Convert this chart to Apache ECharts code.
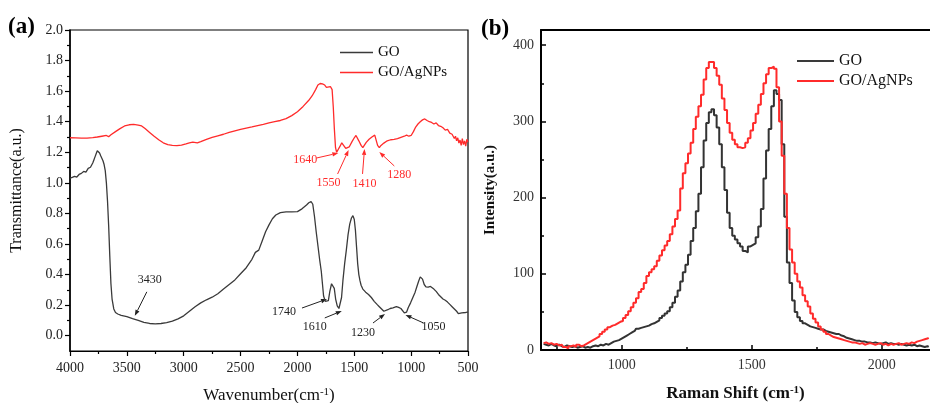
<!DOCTYPE html>
<html>
<head>
<meta charset="utf-8">
<script src="https://cdn.jsdelivr.net/npm/echarts@6/dist/echarts.min.js"></script>
<style>
  html, body { margin: 0; padding: 0; background: #fff; }
  #chart { width: 930px; height: 403px; }
</style>
</head>
<body>
<div id="chart"></div>
<script>
const SERIF = '"Liberation Serif", "Times New Roman", serif';

// ---- (a) FTIR spectra ----
const ftirGoWave = [4000,3980,3960,3940,3920,3900,3880,3860,3840,3820,3800,3790,3780,3770,3760,3750,3740,3730,3720,3710,3700,3690,3680,3670,3660,3650,3640,3630,3615,3600,3580,3550,3500,3450,3400,3350,3300,3250,3200,3150,3100,3050,3000,2950,2900,2850,2800,2750,2700,2650,2600,2550,2500,2450,2400,2370,2340,2310,2280,2250,2220,2190,2150,2100,2050,2000,1960,1920,1900,1880,1865,1850,1835,1820,1805,1790,1780,1770,1755,1740,1728,1715,1700,1688,1676,1664,1650,1635,1625,1612,1600,1585,1570,1555,1540,1525,1512,1500,1490,1480,1470,1460,1450,1440,1425,1400,1375,1350,1325,1300,1280,1260,1240,1225,1205,1185,1160,1130,1110,1090,1075,1060,1050,1040,1025,1005,985,965,950,935,920,910,900,885,870,850,830,815,800,780,760,740,720,700,680,660,640,620,600,585,570,555,540,520,500];
const ftirGoTrans = [1.030,1.036,1.042,1.038,1.055,1.062,1.075,1.070,1.095,1.102,1.130,1.150,1.170,1.190,1.210,1.202,1.195,1.178,1.165,1.145,1.120,1.080,1.000,0.880,0.720,0.520,0.340,0.240,0.175,0.152,0.142,0.133,0.125,0.112,0.100,0.088,0.080,0.078,0.080,0.085,0.095,0.110,0.130,0.160,0.190,0.215,0.235,0.252,0.275,0.305,0.335,0.365,0.405,0.445,0.500,0.545,0.560,0.620,0.680,0.725,0.765,0.790,0.805,0.810,0.810,0.812,0.830,0.855,0.870,0.878,0.860,0.780,0.680,0.590,0.500,0.420,0.340,0.260,0.225,0.215,0.230,0.290,0.340,0.350,0.310,0.240,0.195,0.178,0.185,0.250,0.360,0.470,0.560,0.660,0.730,0.770,0.785,0.760,0.690,0.580,0.470,0.400,0.360,0.330,0.305,0.285,0.270,0.250,0.225,0.205,0.190,0.175,0.160,0.162,0.170,0.178,0.182,0.190,0.185,0.178,0.170,0.150,0.142,0.155,0.185,0.215,0.250,0.285,0.320,0.355,0.385,0.390,0.370,0.335,0.320,0.318,0.322,0.318,0.305,0.290,0.270,0.255,0.240,0.232,0.220,0.205,0.190,0.175,0.160,0.145,0.140,0.150,0.155,0.152,0.155];

const ftirAgWave = [4000,3950,3900,3850,3800,3760,3720,3680,3660,3640,3600,3560,3520,3480,3440,3400,3370,3340,3300,3260,3220,3180,3140,3100,3060,3020,2980,2950,2920,2880,2850,2800,2750,2700,2650,2600,2550,2500,2450,2400,2350,2300,2250,2200,2150,2100,2050,2000,1950,1900,1870,1840,1820,1800,1780,1760,1745,1730,1710,1695,1685,1675,1665,1655,1640,1625,1610,1595,1575,1560,1545,1520,1500,1485,1475,1460,1440,1425,1410,1395,1370,1345,1320,1305,1295,1280,1265,1240,1210,1180,1150,1120,1090,1060,1040,1020,1000,980,960,940,920,900,880,860,840,820,800,780,760,740,720,700,680,660,640,620,610,600,590,580,570,560,550,540,530,520,510,500];
const ftirAgTrans = [1.295,1.294,1.293,1.292,1.296,1.300,1.305,1.310,1.302,1.315,1.335,1.355,1.372,1.380,1.382,1.378,1.372,1.355,1.330,1.305,1.282,1.262,1.250,1.245,1.243,1.247,1.255,1.262,1.267,1.262,1.270,1.285,1.298,1.308,1.318,1.330,1.340,1.350,1.358,1.366,1.375,1.383,1.392,1.400,1.408,1.420,1.440,1.465,1.500,1.540,1.570,1.610,1.640,1.650,1.648,1.640,1.625,1.635,1.630,1.610,1.500,1.350,1.230,1.200,1.205,1.240,1.262,1.255,1.225,1.215,1.235,1.270,1.295,1.310,1.300,1.275,1.245,1.230,1.235,1.265,1.285,1.300,1.312,1.300,1.245,1.230,1.245,1.260,1.275,1.282,1.285,1.290,1.298,1.305,1.312,1.305,1.310,1.335,1.365,1.385,1.400,1.412,1.418,1.408,1.400,1.395,1.385,1.392,1.375,1.370,1.360,1.345,1.350,1.325,1.318,1.290,1.305,1.275,1.295,1.260,1.280,1.245,1.290,1.250,1.275,1.240,1.285,1.265];

const wavenumberTicks = [4000, 3500, 3000, 2500, 2000, 1500, 1000, 500];
const wavenumberMinorTicks = [3750, 3250, 2750, 2250, 1750, 1250, 750];
const transTicks = [0.0, 0.2, 0.4, 0.6, 0.8, 1.0, 1.2, 1.4, 1.6, 1.8, 2.0];
const transMinorTicks = [0.1, 0.3, 0.5, 0.7, 0.9, 1.1, 1.3, 1.5, 1.7, 1.9];

// marked band positions (cm-1)
const goBands = [3430, 1740, 1610, 1230, 1050];
const agBands = [1640, 1550, 1410, 1280];

// ---- (b) Raman spectra ----
const ramanShift = [];
for (let s = 700; s <= 2180; s += 10) ramanShift.push(s);
const ramanGo = [8,7,6,8,6,5,7,5,4,6,5,4,5,3,4,5,3,4,3,5,6,5,7,6,8,7,9,11,12,13,15,17,19,21,23,25,28,29,30,31,32,34,35,37,39,42,45,48,51,56,62,70,78,90,102,112,125,143,160,182,205,240,275,298,312,316,308,292,270,240,210,180,160,150,145,140,136,130,128,136,138,140,148,162,185,225,262,290,320,341,336,328,270,175,115,88,65,50,43,38,35,33,31,30,29,28,27,27,25,24,23,22,21,21,19,18,16,15,14,13,12,12,11,11,10,10,9,10,9,8,9,10,8,9,8,8,7,8,7,6,7,6,7,5,6,5,4,5,4];
const ramanAg = [9,10,8,9,7,8,6,7,4,2,5,6,4,7,5,6,8,10,12,14,16,18,21,24,27,30,32,33,35,37,38,42,46,51,56,62,68,76,80,88,97,102,106,110,117,124,131,137,143,152,162,172,183,212,232,245,258,272,290,306,320,335,355,370,378,378,370,360,348,330,315,298,285,276,270,266,265,266,272,278,288,298,310,322,336,350,362,370,372,369,345,300,255,205,160,132,115,100,90,82,72,64,57,48,41,36,31,27,24,21,19,17,16,15,14,13,12,11,10,10,9,8,9,7,8,9,8,7,8,9,7,8,6,8,7,8,9,7,8,9,8,10,9,11,12,13,14,15,16];

const shiftTicks = [1000, 1500, 2000];
const shiftMinorTicks = [750, 1250, 1750];
const intensityTicks = [0, 100, 200, 300, 400];
const intensityMinorTicks = [50, 150, 250, 350];

const GO_DARK = '#3a3a3a';
const AG_RED = '#ff2b2b';

const pairs = (xs, ys) => xs.map((x, i) => [x, ys[i]]);
const plain = v => String(v);

function axisTitle(size, bold) {
  return {
    fontFamily: SERIF, fontSize: size, color: '#111', fontWeight: bold ? 'bold' : 'normal',
    rich: {
      sup: { fontFamily: SERIF, fontSize: Math.round(size * 0.62), color: '#111',
             fontWeight: bold ? 'bold' : 'normal', verticalAlign: 'top' }
    }
  };
}

function baseValueAxis(grid, min, max, extra) {
  return Object.assign({
    type: 'value', gridIndex: grid, min: min, max: max,
    splitLine: { show: false },
    axisLine: { show: false, onZero: false },
    axisTick: { show: false },
    axisLabel: { show: false }
  }, extra);
}

const chart = echarts.init(document.getElementById('chart'), null, { renderer: 'canvas' });

const option = {
  backgroundColor: '#fff',
  animation: false,
  grid: [
    { left: 70, top: 30, width: 398, height: 321, outerBoundsMode: 'none', containLabel: false,
      show: true, borderColor: '#000', borderWidth: 1.2, backgroundColor: 'transparent' },
    { left: 541, top: 30, width: 389, height: 320, outerBoundsMode: 'none', containLabel: false }
  ],
  xAxis: [
    baseValueAxis(0, 500, 4000, {
      inverse: true, position: 'bottom',
      axisLine: { show: true, onZero: false, lineStyle: { color: '#000', width: 1.2 } },
      axisTick: { show: true, inside: false, length: 5, customValues: wavenumberTicks, lineStyle: { color: '#000', width: 1.2 } },
      axisLabel: { show: true, customValues: wavenumberTicks, formatter: plain, margin: 10, fontFamily: SERIF, fontSize: 14, color: '#222' },
      name: 'Wavenumber(cm{sup|-1})', nameLocation: 'middle', nameGap: 36,
      nameTextStyle: axisTitle(17, false)
    }),
    baseValueAxis(0, 500, 4000, {
      inverse: true, position: 'bottom',
      axisTick: { show: true, inside: false, length: 3, customValues: wavenumberMinorTicks, lineStyle: { color: '#000', width: 1.2 } }
    }),
    baseValueAxis(1, 690, 2185, {
      position: 'bottom',
      axisLine: { show: true, onZero: false, lineStyle: { color: '#000', width: 2 } },
      axisTick: { show: true, inside: true, length: 5, customValues: shiftTicks, lineStyle: { color: '#000', width: 1.5 } },
      axisLabel: { show: true, customValues: shiftTicks, formatter: plain, margin: 8, fontFamily: SERIF, fontSize: 14, color: '#333' },
      name: 'Raman Shift (cm{sup|-1})', nameLocation: 'middle', nameGap: 35,
      nameTextStyle: axisTitle(17, true)
    }),
    baseValueAxis(1, 690, 2185, {
      position: 'bottom',
      axisTick: { show: true, inside: true, length: 3, customValues: shiftMinorTicks, lineStyle: { color: '#000', width: 1.5 } }
    }),
    baseValueAxis(1, 690, 2185, {
      position: 'top',
      axisLine: { show: true, onZero: false, lineStyle: { color: '#000', width: 2 } }
    })
  ],
  yAxis: [
    baseValueAxis(0, -0.1, 2.0, {
      position: 'left',
      axisLine: { show: true, onZero: false, lineStyle: { color: '#000', width: 1.5 } },
      axisTick: { show: true, inside: false, length: 5, customValues: transTicks, lineStyle: { color: '#000', width: 1.2 } },
      axisLabel: { show: true, customValues: transTicks, margin: 7, fontFamily: SERIF, fontSize: 14, color: '#222',
                   formatter: v => v.toFixed(1) },
      name: 'Transmittance(a.u.)', nameLocation: 'middle', nameRotate: 90, nameGap: 45,
      nameTextStyle: { fontFamily: SERIF, fontSize: 16, color: '#111' }
    }),
    baseValueAxis(0, -0.1, 2.0, {
      position: 'left',
      axisTick: { show: true, inside: false, length: 3, customValues: transMinorTicks, lineStyle: { color: '#000', width: 1.2 } }
    }),
    baseValueAxis(1, 0, 420, {
      position: 'left',
      axisLine: { show: true, onZero: false, lineStyle: { color: '#000', width: 2 } },
      axisTick: { show: true, inside: true, length: 5, customValues: intensityTicks, lineStyle: { color: '#000', width: 1.5 } },
      axisLabel: { show: true, customValues: intensityTicks, formatter: plain, margin: 7, fontFamily: SERIF, fontSize: 14, color: '#333' },
      name: 'Intensity(a.u.)', nameLocation: 'middle', nameRotate: 90, nameGap: 43,
      nameTextStyle: { fontFamily: SERIF, fontSize: 15, fontWeight: 'bold', color: '#111' }
    }),
    baseValueAxis(1, 0, 420, {
      position: 'left',
      axisTick: { show: true, inside: true, length: 3, customValues: intensityMinorTicks, lineStyle: { color: '#000', width: 1.5 } }
    })
  ],
  legend: [
    { left: 340, top: 45, padding: 0, orient: 'vertical', icon: 'rect', itemWidth: 33, itemHeight: 1.3, itemGap: 5,
      data: ['GO', 'GO/AgNPs'], textStyle: { fontFamily: SERIF, fontSize: 15, color: '#111' } },
    { left: 797, top: 53, padding: 0, orient: 'vertical', icon: 'rect', itemWidth: 37, itemHeight: 2.2, itemGap: 4,
      data: ['GO', 'GO/AgNPs'],
      textStyle: { fontFamily: SERIF, fontSize: 16, color: '#111' } }
  ],
  series: [
    { name: 'GO', type: 'line', xAxisIndex: 0, yAxisIndex: 0, symbol: 'none',
      data: pairs(ftirGoWave, ftirGoTrans), lineStyle: { color: GO_DARK, width: 1.3 }, itemStyle: { color: GO_DARK } },
    { name: 'GO/AgNPs', type: 'line', xAxisIndex: 0, yAxisIndex: 0, symbol: 'none',
      data: pairs(ftirAgWave, ftirAgTrans), lineStyle: { color: AG_RED, width: 1.3 }, itemStyle: { color: AG_RED } },
    { name: 'GO', type: 'line', xAxisIndex: 2, yAxisIndex: 2, symbol: 'none', step: 'middle',
      data: pairs(ramanShift, ramanGo), lineStyle: { color: '#333', width: 2 }, itemStyle: { color: '#333' } },
    { name: 'GO/AgNPs', type: 'line', xAxisIndex: 2, yAxisIndex: 2, symbol: 'none', step: 'middle',
      data: pairs(ramanShift, ramanAg), lineStyle: { color: AG_RED, width: 2 }, itemStyle: { color: AG_RED } }
  ]
};

chart.setOption(option);

// Arrow annotations for the marked FTIR bands.
// tipV: transmittance the arrow points at; tail / text: pixel offsets from the tip.
const goBandLayout = [
  { tipV: 0.13,  tail: [12, -24],  text: [15, -36] },
  { tipV: 0.24,  tail: [-25, 9],   text: [-43, 13] },
  { tipV: 0.162, tail: [-17, 7],   text: [-27, 16] },
  { tipV: 0.142, tail: [-12, 9],   text: [-22, 19] },
  { tipV: 0.136, tail: [18, 8],    text: [28, 12] }
];
const agBandLayout = [
  { tipV: 1.195, tail: [-22, 5],   text: [-33, 7] },
  { tipV: 1.215, tail: [-11, 24],  text: [-20, 33] },
  { tipV: 1.222, tail: [-2, 25],   text: [0, 35] },
  { tipV: 1.202, tail: [15, 14],   text: [20, 23] }
];

function arrow(tip, tail, color) {
  const dx = tip[0] - tail[0], dy = tip[1] - tail[1];
  const len = Math.hypot(dx, dy);
  const ux = dx / len, uy = dy / len;
  const hl = 6, hw = 2.2;
  const bx = tip[0] - ux * hl, by = tip[1] - uy * hl;
  return [
    { type: 'line', silent: true, shape: { x1: tail[0], y1: tail[1], x2: bx, y2: by },
      style: { stroke: color, lineWidth: 1 } },
    { type: 'polygon', silent: true,
      shape: { points: [[tip[0], tip[1]], [bx - uy * hw, by + ux * hw], [bx + uy * hw, by - ux * hw]] },
      style: { fill: color } }
  ];
}

function bandGraphics(bands, layout, color) {
  const out = [];
  bands.forEach((w, i) => {
    const L = layout[i];
    const tip = chart.convertToPixel({ xAxisIndex: 0, yAxisIndex: 0 }, [w, L.tipV]);
    const tail = [tip[0] + L.tail[0], tip[1] + L.tail[1]];
    out.push(...arrow(tip, tail, color));
    out.push({ type: 'text', silent: true, x: tip[0] + L.text[0], y: tip[1] + L.text[1],
      style: { text: String(w), fill: color, font: '12px ' + SERIF, align: 'center', verticalAlign: 'middle' } });
  });
  return out;
}

const panelTitle = (txt, x, y) => ({ type: 'text', silent: true, x: x, y: y,
  style: { text: txt, fill: '#000', font: 'bold 23px ' + SERIF, align: 'left', verticalAlign: 'middle' } });

chart.setOption({
  graphic: [
    panelTitle('(a)', 8, 27),
    panelTitle('(b)', 481, 29),
    ...bandGraphics(goBands, goBandLayout, '#222'),
    ...bandGraphics(agBands, agBandLayout, '#ff2b2b')
  ]
});
</script>
</body>
</html>
